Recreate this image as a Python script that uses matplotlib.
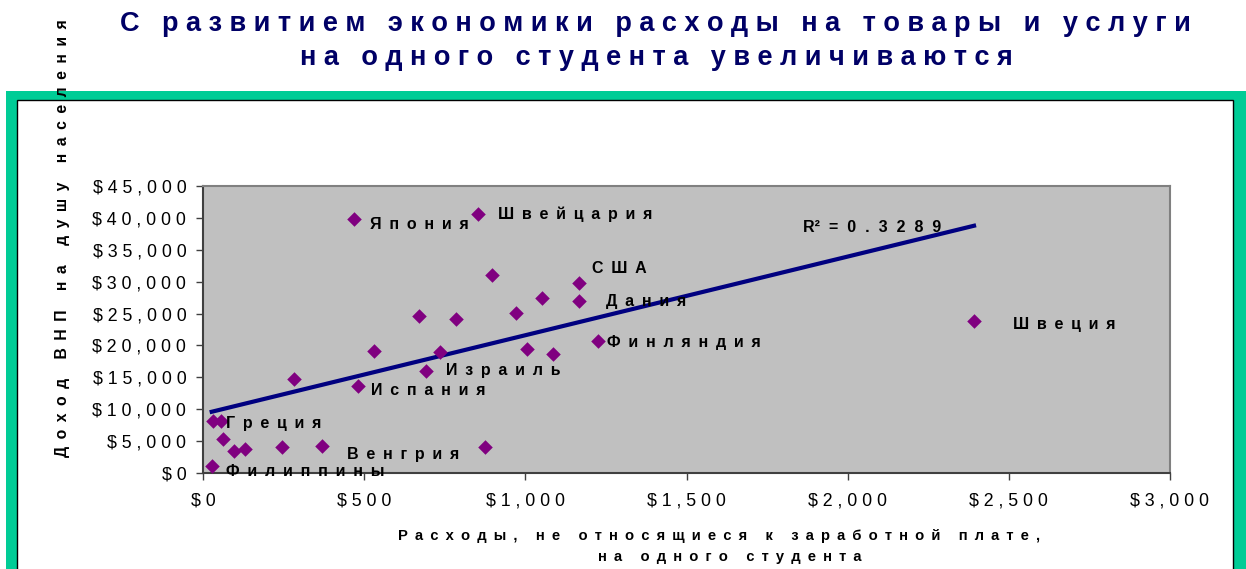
import numpy as np
import matplotlib
matplotlib.use('Agg')
from matplotlib import pyplot as plt
from matplotlib.patches import Rectangle
from matplotlib.ticker import FuncFormatter

# --- data
names = ['Япония', 'Швейцария', '', 'США', 'Дания', '', '', '', '', 'Финляндия',
         '', '', '', '', 'Израиль', '', 'Испания', '', 'Греция', '', '', '',
         '', 'Венгрия', '', 'Филиппины', 'Швеция']
spend = [469, 854, 897, 1168, 1168, 1051, 971, 670, 786, 1226,
         1004, 1087, 531, 735, 692, 281, 480, 30, 55, 63, 97, 130,
         245, 369, 875, 27, 2392]
gnp = [39800, 40600, 31100, 29800, 27000, 27500, 25100, 24600, 24100, 20700,
       19400, 18700, 19100, 18900, 16000, 14700, 13600, 8200, 8200, 5300, 3400, 3700,
       4000, 4200, 4000, 1100, 23800]
r2_value = '0.3289'
x_ticks = [0, 500, 1000, 1500, 2000, 2500, 3000]
y_ticks = [0, 5000, 10000, 15000, 20000, 25000, 30000, 35000, 40000, 45000]

title = 'С развитием экономики расходы на товары и услуги\nна одного студента увеличиваются'
xlabel = 'Расходы, не относящиеся к заработной плате,\nна одного студента'
ylabel = 'Доход ВНП на душу населения'

# label offsets in pixels (dx, dy up)
offsets = {'Япония': (16, -5), 'Швейцария': (20, 0), 'США': (13, 14), 'Дания': (27, -1),
           'Финляндия': (9, -2), 'Израиль': (20, 0), 'Испания': (13, -4), 'Греция': (5, -3),
           'Венгрия': (25, -8), 'Филиппины': (14, -6), 'Швеция': (39, -3)}


def spaced(s, sep=' \u2009'):
    return '\n'.join(sep.join(list(line)) for line in s.split('\n'))


plt.rcParams['font.family'] = ['Liberation Sans', 'DejaVu Sans']

W, H = 1246, 569
fig = plt.figure(figsize=(W / 100, H / 100), dpi=100)

# green frame
fig.patches.append(Rectangle((6 / W, 0), (W - 6) / W, (H - 91) / H, transform=fig.transFigure,
                             facecolor='#00CC96', edgecolor='none', zorder=-10))
fig.patches.append(Rectangle((17 / W, -0.01), (1233 - 17) / W, (H - 100) / H + 0.01,
                             transform=fig.transFigure, facecolor='white', edgecolor='black',
                             linewidth=1, zorder=-9))

ax = fig.add_axes([203 / W, 1 - 473 / H, (1170 - 203) / W, (473 - 186) / H])
ax.set_facecolor('#C0C0C0')
ax.set_xlim(0, 3000)
ax.set_ylim(0, 45000)

ax.scatter(spend, gnp, marker='D', s=55, color='#800080', zorder=3, linewidths=0)

# linear trend
k, b = np.polyfit(spend, gnp, 1)
xs = np.array([min(spend), max(spend)])
ax.plot(xs, k * xs + b, color='#000080', linewidth=3, zorder=2)

for n, xv, yv in zip(names, spend, gnp):
    if n:
        dx, dy = offsets[n]
        ax.annotate(spaced(n), (xv, yv), xytext=(dx, dy), textcoords='offset pixels',
                    ha='left', va='center', fontsize=11.5, fontweight='bold', zorder=4)

r2_label = 'R²  ' + '  '.join(['='] + list(r2_value))
ax.text(1860, 38500, r2_label, ha='left', va='center',
        fontsize=11.5, fontweight='bold', zorder=4)

ax.set_xticks(x_ticks)
ax.set_yticks(y_ticks)
ax.xaxis.set_major_formatter(FuncFormatter(lambda v, p: spaced('${:,.0f}'.format(v), ' ')))
ax.yaxis.set_major_formatter(FuncFormatter(lambda v, p: spaced('${:,.0f}'.format(v), ' ')))
ax.tick_params(axis='both', direction='out', length=5, width=1, labelsize=12.8, color='#404040')
ax.tick_params(axis='x', pad=9)
ax.tick_params(axis='y', pad=7)
for side in ['top', 'right']:
    ax.spines[side].set_color('#808080')
    ax.spines[side].set_linewidth(1.5)
for side in ['left', 'bottom']:
    ax.spines[side].set_color('#404040')
    ax.spines[side].set_linewidth(1.5)

xl1, xl2 = xlabel.split('\n')
fig.text(719 / W, 1 - 536 / H, spaced(xl1), ha='center', va='center',
         fontsize=10.6, fontweight='bold')
fig.text(730 / W, 1 - 557 / H, spaced(xl2), ha='center', va='center',
         fontsize=10.6, fontweight='bold')
fig.text(63 / W, 1 - 238 / H, spaced(ylabel), ha='center', va='center', rotation=90,
         fontsize=11.3, fontweight='bold', zorder=5)

t1, t2 = title.split('\n')
tfam = ['Liberation Sans Narrow', 'Liberation Sans']
fig.text(655 / W, 1 - 24 / H, spaced(t1, ' '), ha='center', va='center', fontsize=19.5,
         fontweight='bold', color='#000066', family=tfam)
fig.text(656 / W, 1 - 58 / H, spaced(t2, ' '), ha='center', va='center', fontsize=19.5,
         fontweight='bold', color='#000066', family=tfam)

fig.savefig('out.png', dpi=100)
